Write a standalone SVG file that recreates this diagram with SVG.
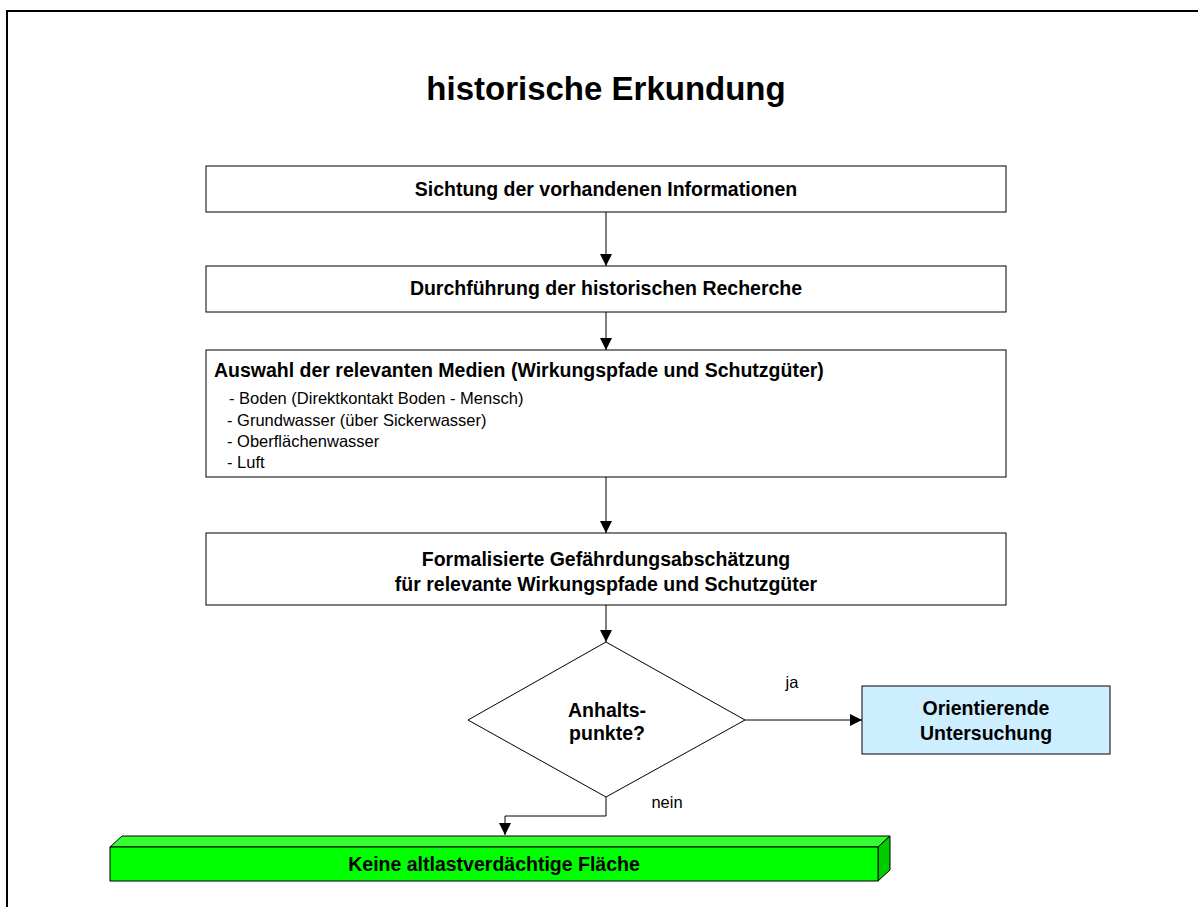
<svg xmlns="http://www.w3.org/2000/svg" width="1198" height="907" viewBox="0 0 1198 907">
  <style>
    .box { fill: #ffffff; stroke: #000000; stroke-width: 1; }
    .t { font-family: "Liberation Sans", Arial, sans-serif; fill: #000000; }
    .b { font-weight: bold; font-size: 19.5px; }
    .n { font-size: 16.5px; }
    .c { text-anchor: middle; }
    .edge { fill: none; stroke: #000000; stroke-width: 1; marker-end: url(#arrow); }
  </style>
  <defs>
    <marker id="arrow" viewBox="0 0 10 10" refX="10" refY="5" markerWidth="12" markerHeight="12" markerUnits="userSpaceOnUse" orient="auto">
      <path d="M0,0 L10,5 L0,10 Z" fill="#000000"/>
    </marker>
  </defs>

  <rect x="0" y="0" width="1198" height="907" fill="#ffffff"/>
  <!-- page frame -->
  <rect x="7" y="11" width="1200" height="910" fill="none" stroke="#000000" stroke-width="2"/>

  <text class="t c" x="606" y="100" font-size="33" font-weight="bold">historische Erkundung</text>

  <g id="connectors">
    <line class="edge" x1="606" y1="212" x2="606" y2="266"/>
    <line class="edge" x1="606" y1="312" x2="606" y2="350"/>
    <line class="edge" x1="606" y1="477" x2="606" y2="533"/>
    <line class="edge" x1="606" y1="605" x2="606" y2="642"/>
    <line class="edge" x1="745" y1="720" x2="862" y2="720"/>
    <polyline class="edge" points="606,797 606,816 505,816 505,835"/>
    <text class="t n c" x="792" y="688">ja</text>
    <text class="t n c" x="667" y="808">nein</text>
  </g>

  <g id="sichtung">
    <rect class="box" x="206" y="166" width="800" height="46"/>
    <text class="t b c" x="606" y="196">Sichtung der vorhandenen Informationen</text>
  </g>

  <g id="recherche">
    <rect class="box" x="206" y="266" width="800" height="46"/>
    <text class="t b c" x="606" y="295">Durchführung der historischen Recherche</text>
  </g>

  <g id="medien">
    <rect class="box" x="206" y="350" width="800" height="127"/>
    <text class="t b" x="214" y="377">Auswahl der relevanten Medien (Wirkungspfade und Schutzgüter)</text>
    <text class="t n" x="229" y="404">- Boden (Direktkontakt Boden - Mensch)</text>
    <text class="t n" x="227" y="426">- Grundwasser (über Sickerwasser)</text>
    <text class="t n" x="227" y="447">- Oberflächenwasser</text>
    <text class="t n" x="227" y="468">- Luft</text>
  </g>

  <g id="gefaehrdung">
    <rect class="box" x="206" y="533" width="800" height="72"/>
    <text class="t b c" x="606" y="566">Formalisierte Gefährdungsabschätzung</text>
    <text class="t b c" x="606" y="591">für relevante Wirkungspfade und Schutzgüter</text>
  </g>

  <g id="anhaltspunkte">
    <polygon class="box" points="606,642 745,720 606,797 468,720"/>
    <text class="t b c" x="607" y="717">Anhalts-</text>
    <text class="t b c" x="607" y="740">punkte?</text>
  </g>

  <g id="orientierende">
    <rect x="862" y="686" width="248" height="68" fill="#cceeff" stroke="#000000" stroke-width="1"/>
    <text class="t b c" x="986" y="715">Orientierende</text>
    <text class="t b c" x="986" y="740">Untersuchung</text>
  </g>

  <g id="keine">
    <polygon points="110,847 122,836 890,836 878,847" fill="#33ff33" stroke="#000000" stroke-width="1"/>
    <polygon points="878,847 890,836 890,870 878,881" fill="#00cc00" stroke="#000000" stroke-width="1"/>
    <rect x="110" y="847" width="768" height="34" fill="#00ff00" stroke="#000000" stroke-width="1"/>
    <text class="t b c" x="494" y="871">Keine altlastverdächtige Fläche</text>
  </g>
</svg>
